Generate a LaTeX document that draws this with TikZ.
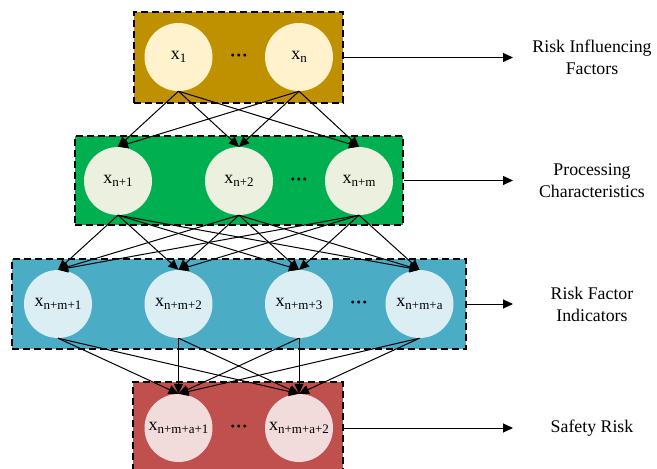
\documentclass[tikz,border=0pt]{standalone}
\usepackage{fontspec}
\setmainfont{Liberation Serif}
\usetikzlibrary{arrows.meta}
\definecolor{goldbox}{HTML}{BF9000}
\definecolor{goldunit}{HTML}{FFF2CC}
\definecolor{greenbox}{HTML}{00B050}
\definecolor{greenunit}{HTML}{EBF1DE}
\definecolor{bluebox}{HTML}{4BACC6}
\definecolor{blueunit}{HTML}{DAEEF3}
\definecolor{redbox}{HTML}{C0504D}
\definecolor{redunit}{HTML}{F2DCDB}
\newcommand\subtxt[1]{\raisebox{-3.5pt}{\fontsize{13}{13}\selectfont #1}}
\begin{document}
\begin{tikzpicture}[x=1pt,y=-1pt,
  layerbox/.style={rectangle, inner sep=0pt, draw=black, dash pattern=on 7pt off 4pt, line width=1.1pt},
  unit/.style={circle, minimum size=68pt, inner sep=0pt, font=\fontsize{18}{20}\selectfont},
  link/.style={-{Triangle[length=10pt,width=9pt]}, line width=1pt},
  ellip/.style={anchor=base, inner sep=0pt, font=\fontsize{18}{20}\selectfont\bfseries},
  sidetext/.style={align=center, font=\fontsize{17.8}{22}\selectfont}
]
\useasboundingbox (0,0) rectangle (657,469);

% layer boxes
\node[layerbox, fill=goldbox,  minimum width=209pt, minimum height=91pt] (L1) at (238.5,57.5) {};
\node[layerbox, fill=greenbox, minimum width=328pt, minimum height=89pt] (L2) at (239,180.5) {};
\node[layerbox, fill=bluebox,  minimum width=454pt, minimum height=90pt] (L3) at (239,304) {};
\node[layerbox, fill=redbox,   minimum width=210pt, minimum height=92pt] (L4) at (238,428) {};

% units
\node[unit, fill=goldunit] (g1) at (178.5,57) {x\subtxt{1}};
\node[unit, fill=goldunit] (g2) at (299,57) {x\subtxt{n}};

\node[unit, fill=greenunit] (h1) at (118,181) {x\subtxt{n+1}};
\node[unit, fill=greenunit] (h2) at (239,181) {x\subtxt{n+2}};
\node[unit, fill=greenunit] (h3) at (359,181) {x\subtxt{n+m}};

\node[unit, fill=blueunit] (k1) at (58,304) {x\subtxt{n+m+1}};
\node[unit, fill=blueunit] (k2) at (178.5,304) {x\subtxt{n+m+2}};
\node[unit, fill=blueunit] (k3) at (299,304) {x\subtxt{n+m+3}};
\node[unit, fill=blueunit] (k4) at (419.5,304) {x\subtxt{n+m+a}};

\node[unit, fill=redunit] (r1) at (178.5,428) {x\subtxt{n+m+a+1}};
\node[unit, fill=redunit] (r2) at (299,428) {x\subtxt{n+m+a+2}};

% ellipses between units
\node[ellip] (e1) at (239,61) {···};
\node[ellip] (e2) at (299,185) {···};
\node[ellip] (e3) at (359,308) {···};
\node[ellip] (e4) at (239,432) {···};

% connections between layers
\foreach \a in {g1,g2} \foreach \b in {h1,h2,h3} \draw[link] (\a.south) -- (\b.north);
\foreach \a in {h1,h2,h3} \foreach \b in {k1,k2,k3,k4} \draw[link] (\a.south) -- (\b.north);
\foreach \a in {k1,k2,k3,k4} \foreach \b in {r1,r2} \draw[link] (\a.south) -- (\b.north);

% layer descriptions
\coordinate (t1) at (513,57.5);
\coordinate (t2) at (513,180.5);
\coordinate (t3) at (513,304);
\coordinate (t4) at (513,428);
\draw[link] (L1.east) -- (t1);
\draw[link] (L2.east) -- (t2);
\draw[link] (L3.east) -- (t3);
\draw[link] (L4.east) -- (t4);
\node[sidetext] (d1) at (592,57) {Risk Influencing\\Factors};
\node[sidetext] (d2) at (592,181) {Processing\\Characteristics};
\node[sidetext] (d3) at (592,304) {Risk Factor\\Indicators};
\node[sidetext] (d4) at (592,428) {Safety Risk};
\end{tikzpicture}
\end{document}
